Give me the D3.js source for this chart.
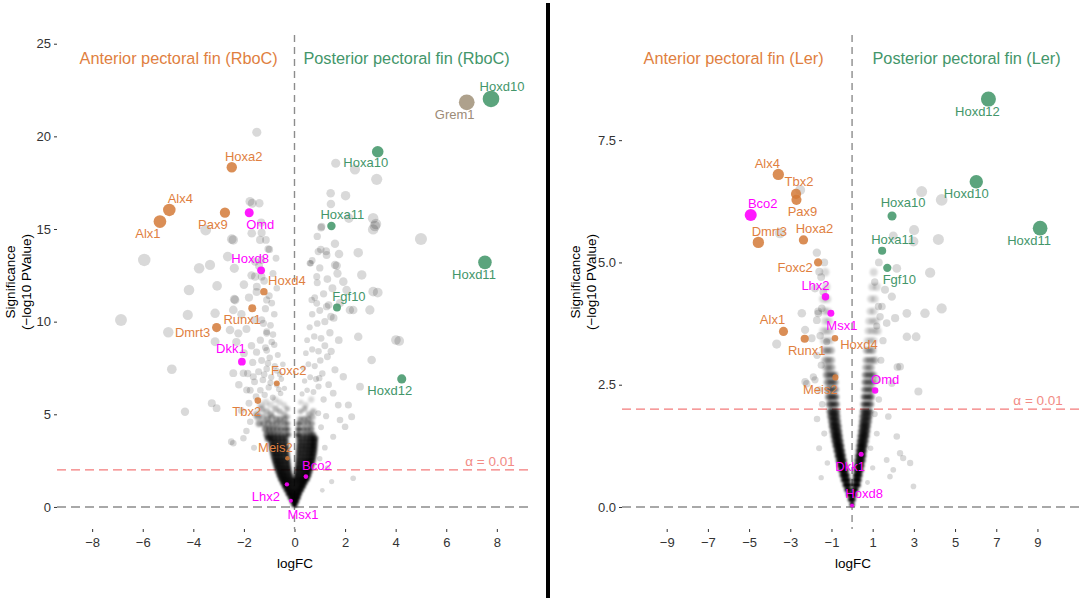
<!DOCTYPE html>
<html>
<head>
<meta charset="utf-8">
<script src="https://cdn.jsdelivr.net/npm/d3@7"></script>
<style>
body { margin: 0; background: #fff; }
text { font-family: "Liberation Sans", Arial, sans-serif; }
</style>
</head>
<body>
<script>
// ---- tick labels ----
const xTicksL = [-8, -6, -4, -2, 0, 2, 4, 6, 8];
const yTicksL = [0, 5, 10, 15, 20, 25];
const xTicksR = [-9, -7, -5, -3, -1, 1, 3, 5, 7, 9];
const yTicksR = [0, 2.5, 5, 7.5];

const alphaCut = 2; // -log10(0.01)

// ---- labelled genes, RboC ----
const genesL = ["Hoxd10", "Grem1", "Hoxa10", "Hoxa11", "Fgf10", "Hoxd11", "Hoxd12",
    "Hoxa2", "Pax9", "Alx4", "Alx1", "Hoxd4", "Runx1", "Dmrt3", "Foxc2", "Tbx2", "Meis2",
    "Omd", "Hoxd8", "Dkk1", "Bco2", "Lhx2", "Msx1"];
const fcL = [7.77, 6.81, 3.29, 1.46, 1.68, 7.53, 4.24,
    -2.48, -2.75, -4.95, -5.32, -1.21, -1.67, -3.08, -0.70, -1.45, -0.28,
    -1.79, -1.32, -2.08, 0.45, -0.30, -0.14];
const sigL = [22.02, 21.84, 19.17, 15.16, 10.76, 13.2, 6.91,
    18.33, 15.88, 16.03, 15.4, 11.62, 10.72, 9.68, 6.67, 5.74, 2.63,
    15.88, 12.77, 7.84, 1.64, 1.22, 0.34];
const groupL = ["post", "grem", "post", "post", "post", "post", "post",
    "ant", "ant", "ant", "ant", "ant", "ant", "ant", "ant", "ant", "ant",
    "mag", "mag", "mag", "mag", "mag", "mag"];

// ---- labelled genes, Ler ----
const genesR = ["Hoxd12", "Hoxd10", "Hoxd11", "Hoxa10", "Hoxa11", "Fgf10",
    "Alx4", "Tbx2", "Pax9", "Dmrt3", "Hoxa2", "Foxc2", "Alx1", "Runx1", "Hoxd4", "Meis2",
    "Bco2", "Lhx2", "Msx1", "Omd", "Dkk1", "Hoxd8"];
const fcR = [6.62, 6.03, 9.13, 1.94, 1.46, 1.71,
    -3.58, -2.72, -2.70, -4.55, -2.36, -1.65, -3.33, -2.30, -0.83, -0.81,
    -4.92, -1.29, -1.03, 1.12, 0.44, 0.0];
const sigR = [8.34, 6.65, 5.70, 5.95, 5.24, 4.89,
    6.80, 6.40, 6.28, 5.41, 5.46, 5.00, 3.59, 3.44, 3.45, 2.65,
    5.97, 4.30, 3.96, 2.38, 1.08, 0.03];
const groupR = ["post", "post", "post", "post", "post", "post",
    "ant", "ant", "ant", "ant", "ant", "ant", "ant", "ant", "ant", "ant",
    "mag", "mag", "mag", "mag", "mag", "mag"];

// ---- other genes, RboC: scattered ones [logFC, -log10 p] ----
const bgL = [[-1.49,20.22],[-5.94,13.33],[-3.77,12.88],[-4.17,11.71],[-3.06,11.93],[-2.42,14.41],[-2.64,13.51],
    [-2.38,12.88],[-1.67,16.39],[-1.39,16.39],[-1.69,14.77],[-1.32,15.34],[-1.30,14.8],[-1.13,14.41],[-0.99,13.9],
    [-1.56,13.24],[-1.30,13.33],[-0.73,13.42],[-1.56,12.43],[-1.30,12.43],[-1.49,11.89],[-2.38,11.21],[-3.51,14.95],
    [-6.86,10.09],[-4.22,10.36],[-4.99,9.43],[-4.85,7.43],[-4.33,5.14],[-3.27,5.6],[-3.08,5.33],[-3.14,10.45],
    [-3.14,8.92],[-2.42,3.44],[-2.02,3.71],[-2.55,9.55],[-2.22,9.37],[-2.42,10.63],[-2.35,11.17],[-1.10,11.17],
    [-1.23,9.91],[-1.10,9.37],[-1.89,6.31],[-2.42,7.22],[-1.63,7.03],[-3.34,13.06],[-2.02,7.22],[-2.48,14.45],
    [-1.36,14.41],[-1.76,16.48],[-1.04,13.92],[-2.5,3.52],
    [1.63,18.55],[3.25,17.68],[1.43,16.93],[2.02,16.8],[1.44,16.35],[1.07,15.13],[3.18,15.16],[3.11,15.58],
    [2.52,13.72],[1.6,13.06],[2.66,12.52],[0.61,13.15],[0.94,13.78],[1.27,13.6],[0.88,12.43],[1.93,12.16],
    [2.06,11.71],[3.11,11.62],[0.68,11.17],[1.27,10.81],[2.32,10.63],[2.98,10.63],[4.01,9.01],[3.05,7.93],
    [1.93,7.03],[2.59,6.49],[1.53,6.14],[0.94,5.06],[2.39,18.22],[1.05,15.07],[5.0,14.46],[1.76,13.65],
    [1.04,13.9],[0.64,13.15],[1.67,13.02],[3.29,11.57],[3.22,15.27],[3.11,14.98],[2.15,15.58],[4.14,8.96],
    [2.52,9.19],[1.73,5.5],[2.13,5.5],[2.0,4.33],[1.53,3.79],[2.26,4.87],[1.8,4.69],[1.47,1.37],[2.32,1.55],
    [0.98,6.95],[2.19,10.63],[1.44,10.27],[0.88,10.99],[1.1,0.9],[1.3,2.1],[1.0,2.6],[1.2,3.2],
    [-1.52,5.95],[-1.18,6.05],[-0.86,5.9],[-0.55,6.12],[-0.4,6.4],[-1.35,6.3],[-1.02,6.45],[-0.7,6.6],[-1.58,6.75],
    [-1.25,6.85],[-0.92,7.0],[-0.58,7.15],[-1.42,7.3],[-1.1,7.45],[-0.78,7.6],[-0.46,7.7],[-1.3,7.9],[-0.98,8.05],
    [-0.66,8.2],[-1.5,8.35],[-1.15,8.6],[-0.8,8.75],[-1.1,8.45],[-0.9,8.9],[-1.35,9.0],[-0.85,9.3],
    [-0.62,6.35],[-0.95,6.7],[-1.2,7.15],[-0.7,7.35],[-0.52,6.9],[-1.05,7.75],
    [-1.1,9.45],[-0.95,9.8],[-1.3,10.1],[-0.8,10.4],[-1.15,10.7],[-0.9,11.0],[-1.0,11.4],[-0.7,11.8],[-1.2,12.2],
    [-0.85,12.6],[-1.6,3.2],[-1.9,4.1],[-1.75,4.6],[-2.1,5.2],[-1.8,5.6],[-1.75,6.3],[-2.2,6.6],[-1.85,7.2],
    [-1.65,7.8],[-2.0,8.3],[-1.7,8.7],[-2.3,8.9],[-1.9,9.6],[-1.6,10.1],[-2.1,10.4],[-1.8,11.3],[-1.5,11.6],
    [-2.0,12.0],[-1.7,12.5],[-1.4,13.0],
    [0.3,6.1],[0.5,6.3],[0.75,6.2],[0.95,6.5],[0.4,6.8],[0.62,7.0],[0.85,6.9],[1.1,7.2],[0.35,7.5],[0.55,7.7],
    [0.8,7.6],[1.02,7.9],[1.3,8.1],[0.45,8.3],[0.7,8.5],[0.95,8.4],[1.2,8.7],[0.5,9.0],[0.78,9.2],[1.05,9.1],
    [1.4,9.4],[0.6,9.7],[0.9,9.9],[1.2,10.0],[1.55,10.2],[0.7,10.4],[1.0,10.6],[1.35,10.9],[1.8,11.0],[0.8,11.3],
    [1.15,11.5],[1.5,11.8],[0.9,12.1],[1.3,12.3],[1.7,12.6],[1.0,12.9],[0.7,13.3],[1.25,13.8],[1.6,14.2],[0.9,14.6],
    [1.15,5.8],[1.35,6.6],[1.6,7.4],[1.45,8.4],[1.75,9.0],[1.25,4.9],[1.05,4.3]];

// ---- dense core, RboC: [ -log10 p, genes per spot, logFC values ] ----
const coreL = [
    [0.1, 12, [-0.04, 0.0, 0.04]],
    [0.3, 12, [-0.1, -0.05, 0, 0.05, 0.1]],
    [0.5, 12, [-0.18, -0.11, -0.04, 0.03, 0.1, 0.16]],
    [0.7, 12, [-0.26, -0.18, -0.1, -0.02, 0.06, 0.14, 0.21]],
    [0.9, 12, [-0.33, -0.24, -0.15, -0.06, 0.03, 0.12, 0.2, 0.28]],
    [1.1, 12, [-0.4, -0.31, -0.22, -0.12, -0.02, 0.08, 0.18, 0.27, 0.35]],
    [1.3, 12, [-0.47, -0.37, -0.27, -0.17, -0.07, 0.04, 0.14, 0.24, 0.33, 0.42]],
    [1.5, 12, [-0.54, -0.43, -0.32, -0.21, -0.1, 0.02, 0.12, 0.22, 0.32, 0.42, 0.5]],
    [1.7, 11, [-0.6, -0.49, -0.38, -0.27, -0.15, 0.06, 0.16, 0.27, 0.38, 0.48, 0.56]],
    [1.9, 10, [-0.65, -0.54, -0.43, -0.31, -0.19, 0.08, 0.19, 0.3, 0.41, 0.51, 0.6]],
    [2.1, 10, [-0.7, -0.58, -0.46, -0.34, -0.22, 0.1, 0.21, 0.33, 0.44, 0.55, 0.64]],
    [2.3, 9, [-0.74, -0.62, -0.5, -0.37, -0.24, 0.12, 0.24, 0.36, 0.48, 0.59, 0.68]],
    [2.5, 9, [-0.78, -0.66, -0.53, -0.4, -0.26, 0.13, 0.26, 0.39, 0.51, 0.62, 0.72]],
    [2.7, 8, [-0.82, -0.69, -0.56, -0.42, -0.28, 0.14, 0.27, 0.4, 0.53, 0.65, 0.75]],
    [2.9, 8, [-0.85, -0.72, -0.58, -0.44, -0.3, 0.15, 0.28, 0.42, 0.55, 0.67, 0.77]],
    [3.1, 8, [-0.88, -0.74, -0.6, -0.46, -0.31, 0.16, 0.3, 0.44, 0.57, 0.69, 0.79]],
    [3.3, 8, [-0.9, -0.76, -0.62, -0.48, -0.33, 0.17, 0.31, 0.45, 0.59, 0.71, 0.8]],
    [3.5, 7, [-0.92, -0.78, -0.64, -0.49, -0.34, 0.18, 0.32, 0.47, 0.6, 0.72, 0.81]],
    [3.7, 7, [-1.05, -0.94, -0.8, -0.65, -0.5, -0.35, 0.18, 0.33, 0.48, 0.62, 0.73, 0.82]],
    [3.9, 5, [-1.1, -0.96, -0.82, -0.67, -0.52, -0.36, -0.24, 0.12, 0.19, 0.34, 0.49, 0.63, 0.74]],
    [4.2, 4, [-1.15, -1.0, -0.85, -0.69, -0.53, -0.37, -0.26, 0.14, 0.2, 0.36, 0.51, 0.66]],
    [4.5, 3, [-1.4, -1.22, -1.03, -0.87, -0.71, -0.55, -0.38, -0.27, 0.15, 0.21, 0.37, 0.53, 0.68]],
    [4.75, 3, [-1.06, -0.73, -0.56, -0.39, 0.22, 0.38, 0.55]],
    [4.85, 2, [-1.45, -1.26, -0.9, -0.28, 0.71]],
    [5.0, 2, [-1.5, -0.93, -0.4, 0.57]],
    [5.15, 2, [-1.1, -0.58, 0.24, 0.74]],
    [5.3, 2, [-1.3, -0.75, -0.29, 0.4]],
    [5.5, 1, [-1.33, -0.95, -0.41, 0.45]],
    [5.65, 1, [-1.13, -0.59, 0.25]],
    [5.8, 1, [-0.77, 0.66]]
];

// ---- other genes, Ler ----
const bgR = [[-1.71,5.2],[-1.59,4.81],[-1.8,4.47],[-2.44,3.96],[-1.64,3.96],[-1.47,4.06],[-3.66,3.33],[-1.96,3.45],
    [-1.23,3.38],[-2.28,2.56],[-1.8,2.6],[-3.5,5.6],[-2.52,6.48],[-2.28,3.62],[-1.71,3.82],[-2.2,2.52],[-1.88,2.66],
    [3.38,6.45],[4.35,6.28],[3.01,5.66],[4.19,5.47],[2.0,5.54],[3.79,4.79],[4.35,4.06],[3.54,3.96],[2.66,3.96],
    [2.17,4.88],[1.6,4.44],[1.93,4.3],[1.28,4.1],[1.36,3.89],[1.68,3.76],[2.09,3.86],[2.33,2.87],[3.22,2.36],
    [1.93,2.53],[2.66,3.48],[2.98,5.43],[3.11,3.48],[2.2,2.86],
    [1.76,1.85],[2.17,1.44],[2.33,1.1],[2.82,0.9],[1.68,0.96],[2.0,0.76],[2.98,0.42],[1.84,0.62],[2.48,1.0],
    [-1.5,0.6],[-1.2,0.9],[-1.6,1.2],[-1.35,1.5],[-1.7,1.8],[-1.45,2.1],[-1.6,2.4],[-1.5,2.9],[-1.7,3.1],
    [-1.55,3.5],[-1.65,4.0],[-1.4,4.4],[-1.5,4.7],[-1.35,5.0],
    [0.75,0.5],[1.0,0.8],[0.9,1.2],[1.2,1.5],[1.1,1.9],[1.3,2.2],[1.25,2.6],[1.4,3.0],[1.5,3.4],[1.2,3.7],
    [1.45,4.1],[1.1,4.6],[1.3,5.0]];

// ---- dense core, Ler ----
const coreR = [
    [0.05, 12, [-0.02, 0.02]],
    [0.15, 12, [-0.1, -0.04, 0.02, 0.07]],
    [0.25, 12, [-0.18, -0.11, -0.04, 0.04, 0.1, 0.15]],
    [0.35, 12, [-0.26, -0.19, -0.12, 0.08, 0.14, 0.2]],
    [0.45, 12, [-0.34, -0.27, -0.2, -0.13, 0.1, 0.17, 0.24, 0.3]],
    [0.55, 10, [-0.42, -0.34, -0.26, -0.18, 0.13, 0.2, 0.27, 0.34]],
    [0.65, 10, [-0.48, -0.4, -0.32, -0.24, 0.16, 0.23, 0.3, 0.38]],
    [0.75, 10, [-0.54, -0.46, -0.38, -0.29, 0.19, 0.27, 0.35, 0.43]],
    [0.85, 10, [-0.6, -0.52, -0.43, -0.34, 0.22, 0.3, 0.39, 0.47]],
    [0.95, 9, [-0.65, -0.57, -0.48, -0.39, 0.25, 0.34, 0.43, 0.52]],
    [1.05, 9, [-0.7, -0.62, -0.53, -0.44, 0.28, 0.37, 0.46, 0.55]],
    [1.15, 8, [-0.75, -0.66, -0.57, -0.48, 0.31, 0.4, 0.49, 0.58]],
    [1.25, 8, [-0.8, -0.71, -0.62, -0.52, 0.34, 0.43, 0.52, 0.62]],
    [1.35, 7, [-0.85, -0.75, -0.66, -0.56, 0.37, 0.46, 0.56, 0.66]],
    [1.45, 7, [-0.89, -0.8, -0.7, -0.6, 0.4, 0.5, 0.6, 0.7]],
    [1.55, 6, [-0.93, -0.83, -0.73, -0.63, 0.43, 0.53, 0.63, 0.73]],
    [1.65, 6, [-0.97, -0.87, -0.77, -0.66, 0.46, 0.56, 0.66, 0.76]],
    [1.75, 5, [-1.0, -0.9, -0.8, -0.69, 0.48, 0.58, 0.69, 0.8]],
    [1.85, 5, [-1.04, -0.93, -0.83, -0.72, 0.5, 0.61, 0.72, 0.83]],
    [1.95, 5, [-1.07, -0.96, -0.85, -0.74, 0.53, 0.64, 0.75, 0.86]],
    [2.1, 4, [-1.1, -0.99, -0.87, -0.76, 0.56, 0.67, 0.78, 0.9]],
    [2.25, 4, [-1.14, -1.02, -0.9, -0.78, 0.58, 0.7, 0.82, 0.93]],
    [2.4, 3, [-1.17, -1.05, -0.92, -0.8, 0.6, 0.72, 0.84, 0.96]],
    [2.55, 3, [-1.2, -1.07, -0.94, -0.82, 0.62, 0.74, 0.87, 1.0]],
    [2.7, 3, [-1.23, -1.1, -0.96, -0.84, 0.64, 0.77, 0.9, 1.03]],
    [2.85, 2, [-1.26, -1.12, -0.98, 0.66, 0.8, 0.93]],
    [3.0, 2, [-1.3, -1.15, -1.0, 0.68, 0.82, 0.96, 1.1]],
    [3.2, 2, [-1.33, -1.18, -1.02, 0.7, 0.85, 1.0]],
    [3.4, 1, [-1.36, -1.2, -1.05, 0.74, 0.9, 1.05]],
    [3.6, 1, [-1.4, -1.24, -1.08, 0.78, 0.94, 1.1, 1.25]],
    [3.8, 1, [-1.3, -1.12, 0.82, 1.0, 1.15]],
    [4.0, 1, [-1.35, -1.18, 0.88, 1.05]],
    [4.25, 1, [-1.4, -1.2, 0.92, 1.1]],
    [4.5, 1, [-1.25, 0.98, 1.2]],
    [4.8, 1, [-1.3, 1.05]]
];

// ---- layout: label nudges in px (text centre relative to point) ----
const labelOffL = [[11,-12],[-12,12],[-12,11],[11,-12],[12,-11],[-11,12],[-12,12],
    [12,-11],[-12,12],[11,-11],[-12,12],[23,-11],[-10,11],[-24,5],[12,-13],[-11,11],[-12,-11],
    [11,12],[-11,-12],[-11,-13],[11,-11],[-21,12],[12,14]];
const labelOffR = [[-11,12],[-10,12],[-11,12],[11,-13],[11,-11],[12,12],
    [-11,-11],[3,-12],[6,12],[11,-11],[11,-11],[-23,5],[-11,-12],[2,12],[24,6],[-15,12],
    [12,-11],[-10,-11],[11,12],[10,-11],[-11,12],[12,-12]];

const pointColor = { ant: "#D47A38", post: "#3E9466", mag: "#FF00FF", grem: "#A09078" };
const textColor = { ant: "#DF7F3F", post: "#43966A", mag: "#FF00FF", grem: "#9C8B77" };

function drawPanel(svg, cfg) {
    const x = d3.scaleLinear().domain(cfg.xDomain).range([cfg.x0, cfg.x1]);
    const y = d3.scaleLinear().domain(cfg.yDomain).range([cfg.y1, cfg.y0]);
    const r = d3.scaleSqrt().domain([0, cfg.prodMax]).range(cfg.rRange).clamp(true);
    const rad = (fc, s) => r(Math.abs(fc) * Math.max(s, 0));

    const g = svg.append("g");

    // axes
    const yAxis = g.append("g")
        .attr("transform", `translate(${cfg.x0},0)`)
        .call(d3.axisLeft(y).tickValues(cfg.yTicks).tickSize(3).tickPadding(3).tickFormat(cfg.yFmt));
    const xAxis = g.append("g")
        .attr("transform", `translate(0,${cfg.y1})`)
        .call(d3.axisBottom(x).tickValues(cfg.xTicks).tickSize(3).tickPadding(6).tickFormat(d3.format("d")));
    [yAxis, xAxis].forEach(a => {
        a.select(".domain").remove();
        a.selectAll(".tick line").attr("stroke", "#333");
        a.selectAll(".tick text").attr("fill", "#333").style("font-size", "13px")
            .style("font-family", "'Liberation Sans', Arial, sans-serif");
    });

    // reference lines
    g.append("line")
        .attr("x1", x(0)).attr("x2", x(0)).attr("y1", cfg.y0).attr("y2", cfg.y1)
        .attr("stroke", "#8c8c8c").attr("stroke-width", 1.4).attr("stroke-dasharray", "7,5");
    g.append("line")
        .attr("x1", cfg.x0).attr("x2", cfg.x1).attr("y1", y(0)).attr("y2", y(0))
        .attr("stroke", "#8c8c8c").attr("stroke-width", 1.4).attr("stroke-dasharray", "9,5");
    g.append("line")
        .attr("x1", cfg.x0).attr("x2", cfg.x1).attr("y1", y(alphaCut)).attr("y2", y(alphaCut))
        .attr("stroke", "#F47B7B").attr("stroke-width", 1.4).attr("stroke-dasharray", "9,5");
    g.append("text")
        .attr("x", x(cfg.alphaX)).attr("y", y(alphaCut) - 4)
        .attr("text-anchor", "middle")
        .attr("fill", "#F28B85")
        .style("font-size", "13.5px")
        .text("\u03B1 = 0.01");

    // scattered background genes
    g.append("g").selectAll("circle")
        .data(cfg.bg)
        .enter().append("circle")
        .attr("cx", d => x(d[0]))
        .attr("cy", d => y(d[1]))
        .attr("r", d => rad(d[0], d[1]))
        .attr("fill", "#000")
        .attr("fill-opacity", 0.15);

    // dense core: each spot stacks n genes
    const coreSpots = cfg.core.flatMap(([s, n, fcs]) => fcs.map(fc => [fc, s, n]));
    g.append("g")
        .attr("filter", "url(#soft)")
        .selectAll("circle")
        .data(coreSpots)
        .enter().append("circle")
        .attr("cx", d => x(d[0]))
        .attr("cy", d => y(d[1]))
        .attr("r", d => rad(d[0], d[1]) + 0.3)
        .attr("fill", "#000")
        .attr("fill-opacity", d => 1 - Math.pow(0.85, d[2]));

    // labelled genes
    const hits = cfg.genes.map((name, i) => ({
        name, fc: cfg.fc[i], sig: cfg.sig[i], grp: cfg.group[i], off: cfg.offsets[i]
    }));
    g.append("g").selectAll("circle")
        .data(hits)
        .enter().append("circle")
        .attr("cx", d => x(d.fc))
        .attr("cy", d => y(d.sig))
        .attr("r", d => rad(d.fc, d.sig))
        .attr("fill", d => pointColor[d.grp])
        .attr("fill-opacity", d => d.grp === "mag" ? 0.9 : 0.85);
    g.append("g").selectAll("text")
        .data(hits)
        .enter().append("text")
        .attr("x", d => x(d.fc) + d.off[0])
        .attr("y", d => y(d.sig) + d.off[1])
        .attr("text-anchor", "middle")
        .attr("dominant-baseline", "central")
        .attr("fill", d => textColor[d.grp])
        .style("font-size", "13px")
        .text(d => d.name);

    // panel annotations
    g.append("text")
        .attr("x", x(cfg.titleX[0])).attr("y", y(cfg.titleY))
        .attr("text-anchor", "middle").attr("dominant-baseline", "central")
        .attr("fill", textColor.ant).style("font-size", "16.3px")
        .text(cfg.titles[0]);
    g.append("text")
        .attr("x", x(cfg.titleX[1])).attr("y", y(cfg.titleY))
        .attr("text-anchor", "middle").attr("dominant-baseline", "central")
        .attr("fill", textColor.post).style("font-size", "16.3px")
        .text(cfg.titles[1]);

    // axis titles
    g.append("text")
        .attr("x", (cfg.x0 + cfg.x1) / 2).attr("y", 563)
        .attr("text-anchor", "middle").attr("dominant-baseline", "central")
        .style("font-size", "13.5px").text("logFC");
    const yc = (cfg.y0 + cfg.y1) / 2;
    g.append("text")
        .attr("transform", `translate(${cfg.x0 - 47},${yc}) rotate(-90)`)
        .attr("text-anchor", "middle").attr("dominant-baseline", "central")
        .style("font-size", "13.5px").text("Significance");
    g.append("text")
        .attr("transform", `translate(${cfg.x0 - 31},${yc}) rotate(-90)`)
        .attr("text-anchor", "middle").attr("dominant-baseline", "central")
        .style("font-size", "13.5px").text("(\u2212log10 PValue)");
}

function setup() {
    const svg = d3.select("body").append("svg")
        .attr("width", 1084)
        .attr("height", 602);

    // soften the stacked core spots so they read as a point cloud
    svg.append("defs").append("filter")
        .attr("id", "soft")
        .append("feGaussianBlur")
        .attr("stdDeviation", 0.9);

    drawPanel(svg, {
        x0: 57, x1: 533, y0: 35, y1: 529,
        xDomain: [-9.39, 9.43], yDomain: [-1.19, 25.47],
        xTicks: xTicksL, yTicks: yTicksL, yFmt: d3.format("d"),
        prodMax: 171, rRange: [1.9, 8.3],
        bg: bgL, core: coreL,
        genes: genesL, fc: fcL, sig: sigL, group: groupL, offsets: labelOffL,
        titles: ["Anterior pectoral fin (RboC)", "Posterior pectoral fin (RboC)"],
        titleX: [-4.58, 4.43], titleY: 24.23,
        alphaX: 7.73
    });

    drawPanel(svg, {
        x0: 622, x1: 1084, y0: 35, y1: 529,
        xDomain: [-11.17, 11.26], yDomain: [-0.45, 9.65],
        xTicks: xTicksR, yTicks: yTicksR, yFmt: d3.format(".1f"),
        prodMax: 55, rRange: [2, 7.5],
        bg: bgR, core: coreR,
        genes: genesR, fc: fcR, sig: sigR, group: groupR, offsets: labelOffR,
        titles: ["Anterior pectoral fin (Ler)", "Posterior pectoral fin (Ler)"],
        titleX: [-5.75, 5.56], titleY: 9.18,
        alphaX: 9.03
    });

    // separator between the two panels
    svg.append("rect")
        .attr("x", 546).attr("y", 3)
        .attr("width", 4).attr("height", 595)
        .attr("fill", "#000");
}

setup();
</script>
</body>
</html>
